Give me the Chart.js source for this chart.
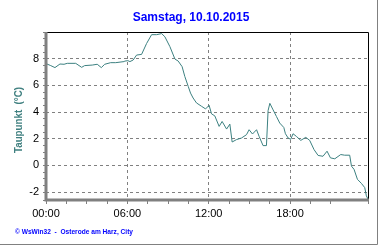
<!DOCTYPE html>
<html>
<head>
<meta charset="utf-8">
<script src="https://cdn.jsdelivr.net/npm/chart.js@4"></script>
<style>
  body { margin: 0; background: #fff; }
  canvas { display: block; }
</style>
</head>
<body>
<canvas id="chart" width="380" height="245"></canvas>
<script>
// hours since midnight and dew point readings (°C)
const hours = [0, 0.35, 0.66, 1.03, 1.33, 1.57, 2.19, 2.63, 2.85, 3.41, 3.78, 4.08, 4.33, 4.77, 5.14,
  5.75, 5.82, 6.04, 6.19, 6.43, 6.68, 7.05, 7.42, 7.79, 8.16, 8.53, 8.77, 9.14, 9.51, 9.75, 10.04,
  10.24, 10.49, 10.66, 10.85, 11.1, 11.47, 11.77, 12.03, 12.21, 12.45, 12.77, 12.99, 13.32, 13.56,
  13.73, 14.05, 14.42, 14.79, 14.98, 15.23, 15.53, 15.72, 16.01, 16.26, 16.38, 16.51, 16.75, 17.0,
  17.24, 17.54, 17.66, 17.86, 18.05, 18.22, 18.47, 18.79, 19.16, 19.45, 19.77, 20.07, 20.43, 20.73,
  20.98, 21.3, 21.74, 22.03, 22.4, 22.53, 22.72, 22.97, 23.26, 23.51, 23.63, 23.75];
const taupunkt = [7.63, 7.48, 7.33, 7.6, 7.58, 7.65, 7.65, 7.35, 7.48, 7.52, 7.58, 7.33, 7.58, 7.7, 7.7,
  7.78, 7.82, 7.85, 7.78, 7.9, 8.27, 8.32, 9.14, 9.8, 9.8, 9.88, 9.64, 8.9, 7.97, 7.82, 7.4,
  6.66, 5.92, 5.42, 5.05, 4.68, 4.43, 4.23, 4.5, 3.86, 3.71, 2.92, 3.29, 2.72, 3.09,
  1.75, 1.93, 2.05, 2.3, 2.67, 2.35, 2.67, 2.17, 1.48, 1.48, 4.1, 4.65, 4.16, 3.66,
  3.17, 2.84, 2.37, 2.05, 1.95, 2.37, 2.17, 1.87, 2.1, 1.87, 1.18, 0.74, 0.68, 1.06,
  0.56, 0.49, 0.81, 0.76, 0.76, -0.06, -0.3, -1.05, -1.35, -1.67, -2.29, -2.53];
const yTicks = [-2, 0, 2, 4, 6, 8];
const xTickLabels = ["00:00", "06:00", "12:00", "18:00"];

const titleText = "Samstag, 10.10.2015";
const yTitle = "Taupunkt  (°C)";
const footer = "© WsWin32  -  Osterode am Harz, City";

const points = hours.map((h, i) => ({ x: h, y: taupunkt[i] }));

const frame = {
  id: "frame",
  afterDraw(chart) {
    const ctx = chart.ctx;
    const a = chart.chartArea;
    ctx.save();
    // top + right black
    ctx.strokeStyle = "#000";
    ctx.lineWidth = 1;
    ctx.beginPath();
    ctx.moveTo(a.left, a.top + 0.5);
    ctx.lineTo(a.right + 0.5, a.top + 0.5);
    ctx.lineTo(a.right + 0.5, a.bottom);
    ctx.stroke();
    // left + bottom gray, thick
    ctx.strokeStyle = "#808080";
    ctx.lineWidth = 3;
    ctx.beginPath();
    ctx.moveTo(a.left, a.top);
    ctx.lineTo(a.left, a.bottom);
    ctx.lineTo(a.right + 1, a.bottom);
    ctx.stroke();
    // picture edge
    ctx.lineWidth = 1;
    ctx.beginPath();
    ctx.moveTo(377.5, 0);
    ctx.lineTo(377.5, 244.5);
    ctx.lineTo(0, 244.5);
    ctx.stroke();

    ctx.fillStyle = "#0000ff";
    ctx.font = "bold 12px 'Liberation Sans', Arial";
    ctx.textAlign = "center";
    ctx.textBaseline = "middle";
    ctx.fillText(titleText, 191, 18);

    ctx.font = "bold 7px 'Liberation Sans', Arial";
    ctx.textAlign = "left";
    ctx.fillText(footer, 15, 232, 118);

    ctx.translate(19, 120);
    ctx.rotate(-Math.PI / 2);
    ctx.fillStyle = "#408080";
    ctx.font = "bold 11px 'Liberation Sans', Arial";
    ctx.textAlign = "center";
    ctx.fillText(yTitle, 0, 0, 66);
    ctx.restore();
  }
};

new Chart(document.getElementById("chart").getContext("2d"), {
  type: "line",
  data: {
    datasets: [
      {
        label: "Taupunkt",
        data: points,
        borderColor: "#3c8080",
        borderWidth: 1,
        pointRadius: 0,
        tension: 0,
      },
    ],
  },
  options: {
    responsive: false,
    animation: false,
    layout: { padding: { top: 32, right: 12, left: 0, bottom: 0 } },
    plugins: { legend: { display: false }, tooltip: { enabled: false } },
    scales: {
      x: {
        type: "linear",
        min: 0,
        max: 23.75,
        afterFit: (s) => { s.height = 45; },
        ticks: {
          stepSize: 1.5,
          autoSkip: false,
          maxRotation: 0,
          padding: 3,
          color: "#000",
          font: { family: "'Liberation Sans', Arial", size: 11 },
          callback: (v) => (v % 6 === 0 ? xTickLabels[v / 6] : ""),
        },
        grid: {
          color: (c) => (c.tick && c.tick.value % 6 === 0 && c.tick.value > 0 ? "#808080" : "rgba(0,0,0,0)"),
          tickColor: "#808080",
          tickLength: 4,
        },
        border: { display: false, dash: [3, 3] },
      },
      y: {
        min: -2.6,
        max: 10,
        afterFit: (s) => { s.width = 46; },
        ticks: {
          stepSize: 0.5,
          autoSkip: false,
          padding: 4,
          color: "#000",
          font: { family: "'Liberation Sans', Arial", size: 11 },
          callback: (v) => (yTicks.includes(v) ? v : ""),
        },
        grid: {
          color: (c) => (c.tick && yTicks.includes(c.tick.value) ? "#808080" : "rgba(0,0,0,0)"),
          tickColor: "#808080",
          tickLength: 3,
        },
        border: { display: false, dash: [3, 3] },
      },
    },
  },
  plugins: [frame],
});
</script>
</body>
</html>
